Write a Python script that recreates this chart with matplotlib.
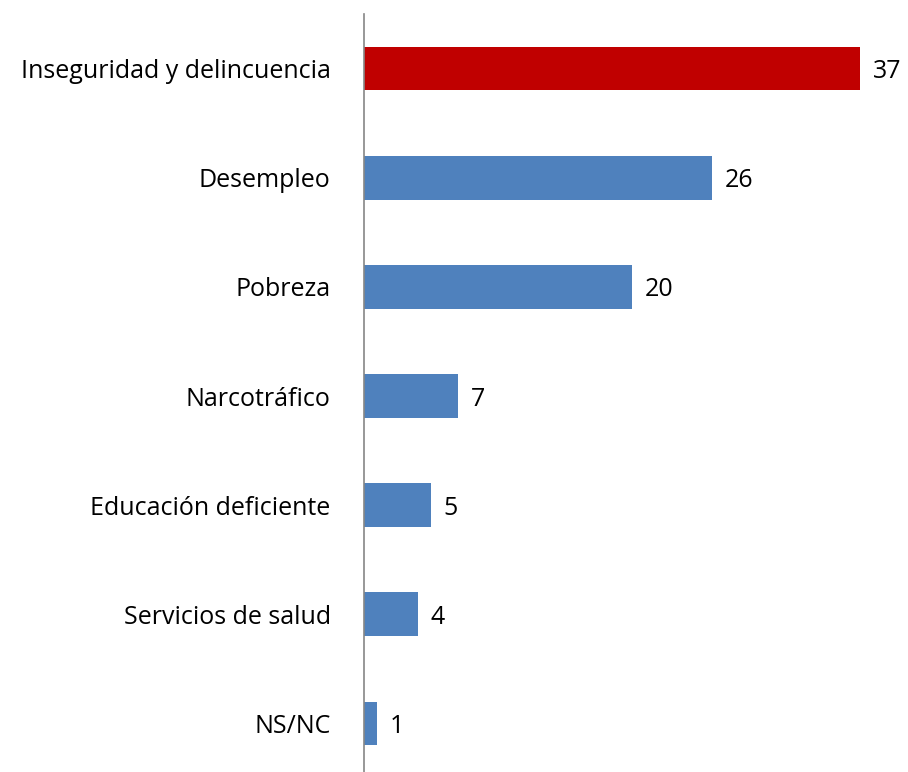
import matplotlib
matplotlib.use("Agg")
import matplotlib.pyplot as plt

categories = ["Inseguridad y delincuencia", "Desempleo", "Pobreza", "Narcotráfico",
              "Educación deficiente", "Servicios de salud", "NS/NC"]
values = [37, 26, 20, 7, 5, 4, 1]
colors = ["#C00000", "#4F81BD", "#4F81BD", "#4F81BD", "#4F81BD", "#4F81BD", "#4F81BD"]

plt.rcParams['font.family'] = ['Open Sans', 'DejaVu Sans']

fig = plt.figure(figsize=(9.08, 7.72), dpi=100)
ax = fig.add_axes([364/908, -6/772, 536/908, 764/772])

ypos = list(range(len(categories)))
ax.barh(ypos, values, height=0.4, color=colors)
ax.set_ylim(len(categories) - 0.5, -0.5)
ax.set_xlim(0, 40)

ax.set_yticks(ypos)
ax.set_yticklabels(categories, fontsize=18)
ax.tick_params(axis='y', length=0, pad=24)
for lbl in ax.get_yticklabels():
    lbl.set_verticalalignment('center_baseline')
ax.set_xticks([])

for s in ['top', 'right', 'bottom']:
    ax.spines[s].set_visible(False)
ax.spines['left'].set_color('#868686')
ax.spines['left'].set_linewidth(1.2)

for y, v in zip(ypos, values):
    ax.text(v + 0.95, y, str(v), va='center_baseline', ha='left', fontsize=18)

fig.savefig("out.png", dpi=100)
